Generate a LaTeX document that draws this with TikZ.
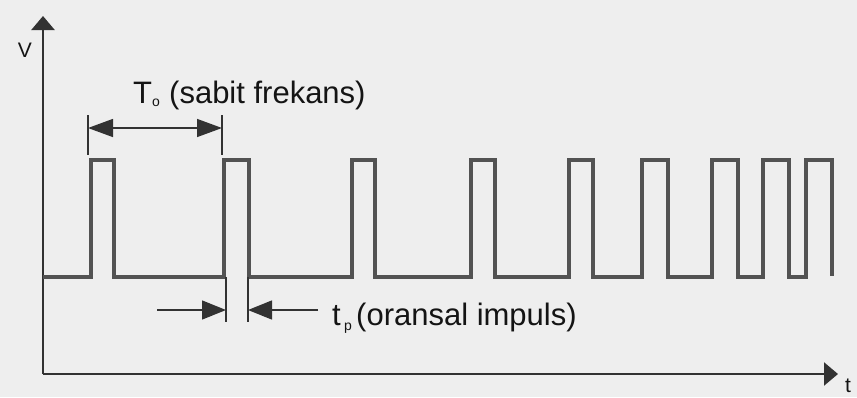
\documentclass[tikz,border=0pt]{standalone}
\usepackage{fontspec}
\setmainfont{Liberation Sans}
\usetikzlibrary{arrows.meta}
\definecolor{paper}{RGB}{238,238,238}
\definecolor{wave}{RGB}{82,82,82}
\definecolor{axisgray}{RGB}{50,50,50}
\definecolor{ink}{RGB}{20,20,20}
\begin{document}
\begin{tikzpicture}[x=1pt,y=-1pt,
  axisline/.style={draw=axisgray, line width=2.4pt, -{Triangle[length=14pt,width=23pt]}},
  signal/.style={draw=wave, line width=3.4pt, line join=miter},
  dimline/.style={draw=axisgray, line width=1.4pt},
  dimhead/.style={{Triangle[length=25pt,width=18pt]}-{Triangle[length=25pt,width=18pt]}},
  onehead/.style={-{Triangle[length=24pt,width=19pt]}},
  lbl/.style={text=ink, inner sep=0pt, font=\fontsize{31}{36}\selectfont},
  sublbl/.style={text=ink, inner sep=0pt, font=\fontsize{14}{14}\selectfont},
  axlbl/.style={text=ink, inner sep=0pt, font=\fontsize{21}{24}\selectfont}]

  % canvas
  \useasboundingbox (0,0) rectangle (857,397);
  \fill[paper] (0,0) rectangle (857,397);

  % axes
  \coordinate (O) at (43,374);
  \coordinate (ytip) at (43,16);
  \coordinate (xtip) at (838,374);
  \draw[axisline] (O) -- (ytip);
  \draw[axisline] (O) -- (xtip);
  \node[axlbl] (vlabel) at (25,50) {V};
  \node[axlbl] (tlabel) at (848,386) {t};

  % pulse train, high level 160, low level 277
  \draw[signal] (43,277) -- (91,277) -- (91,160) -- (114,160) -- (114,277)
    -- (224,277) -- (224,160) -- (249,160) -- (249,277)
    -- (352,277) -- (352,160) -- (375,160) -- (375,277)
    -- (471,277) -- (471,160) -- (495,160) -- (495,277)
    -- (569,277) -- (569,160) -- (593,160) -- (593,277)
    -- (642,277) -- (642,160) -- (668,160) -- (668,277)
    -- (712,277) -- (712,160) -- (738,160) -- (738,277)
    -- (763,277) -- (763,160) -- (789,160) -- (789,277)
    -- (806,277) -- (806,160) -- (832,160) -- (832,276);

  % period dimension
  \coordinate (TLtop) at (88,115);
  \coordinate (TLbot) at (88,155);
  \coordinate (TRtop) at (222,115);
  \coordinate (TRbot) at (222,155);
  \coordinate (TLa) at (88,128);
  \coordinate (TRa) at (222,128);
  \draw[dimline] (TLtop) -- (TLbot);
  \draw[dimline] (TRtop) -- (TRbot);
  \draw[dimline, dimhead] (TLa) -- (TRa);
  \node[lbl, anchor=base west] (Tmain) at (133,103) {T};
  \node[sublbl, anchor=base west] (Tsub) at (152,106) {o};
  \node[lbl, anchor=base west] (Ttext) at (169,103) {(sabit frekans)};

  % pulse width dimension
  \coordinate (PLtop) at (226,277);
  \coordinate (PLbot) at (226,322);
  \coordinate (PRtop) at (248,277);
  \coordinate (PRbot) at (248,322);
  \coordinate (PLa) at (226,310);
  \coordinate (PRa) at (248,310);
  \coordinate (PLfree) at (157,310);
  \coordinate (PRfree) at (318,310);
  \draw[dimline] (PLtop) -- (PLbot);
  \draw[dimline] (PRtop) -- (PRbot);
  \draw[dimline, onehead] (PLfree) -- (PLa);
  \draw[dimline, onehead] (PRfree) -- (PRa);
  \node[lbl, anchor=base west] (pmain) at (332,325) {t};
  \node[sublbl, anchor=base west] (psub) at (344,330) {p};
  \node[lbl, anchor=base west] (ptext) at (356,325) {(oransal impuls)};
\end{tikzpicture}
\end{document}
